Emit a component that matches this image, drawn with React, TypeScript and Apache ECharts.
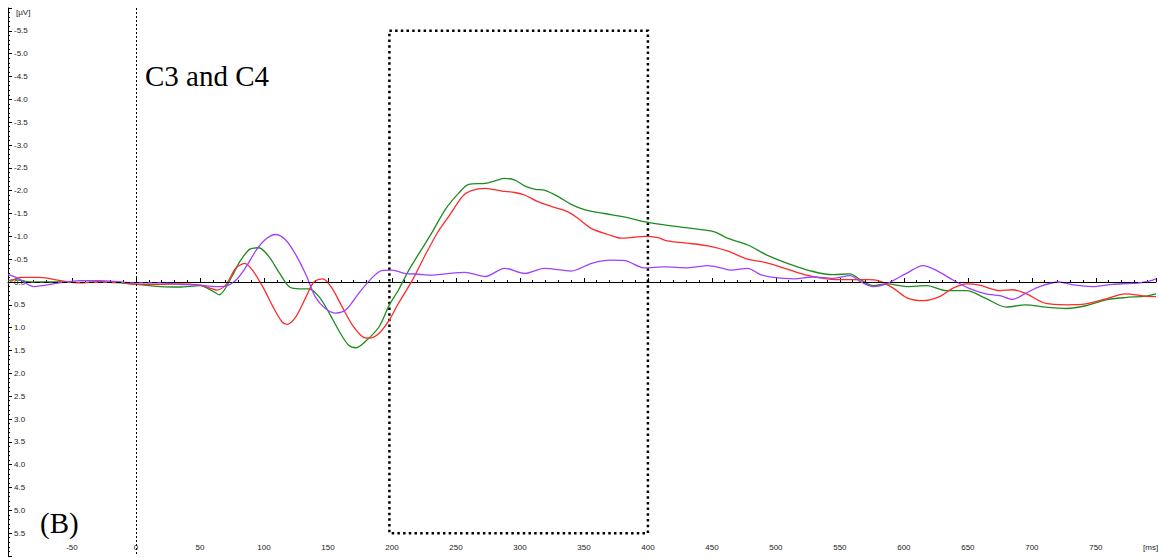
import React, { useEffect, useRef } from "react";
import * as echarts from "echarts";

// Time axis (ms) and amplitude (µV) readings for each waveform
const greenT = [-100, -95, -82, -60, -44, -28, -12, 0, 19, 34, 50, 60, 65, 75, 81, 89, 96, 104, 112, 120, 128, 135, 143, 151, 159, 166, 172, 179, 190, 198, 205, 213, 221, 231, 242, 252, 260, 273, 281, 288, 296, 304, 312, 319, 330, 340, 351, 366, 382, 397, 410, 426, 452, 462, 478, 493, 509, 529, 545, 558, 566, 576, 587, 602, 618, 633, 649, 664, 680, 695, 711, 727, 742, 758, 773, 789, 797];
const greenV = [-0.03, -0.05, 0, 0, 0.01, 0, 0.02, 0.05, 0.1, 0.11, 0.08, 0.2, 0.28, -0.12, -0.44, -0.72, -0.75, -0.55, -0.2, 0.11, 0.15, 0.15, 0.32, 0.68, 1.09, 1.38, 1.44, 1.31, 0.98, 0.5, 0.18, -0.25, -0.62, -1.07, -1.6, -1.94, -2.14, -2.16, -2.22, -2.27, -2.23, -2.1, -2.03, -2.01, -1.87, -1.7, -1.58, -1.5, -1.42, -1.32, -1.26, -1.2, -1.1, -0.96, -0.81, -0.59, -0.41, -0.23, -0.16, -0.18, -0.05, 0.08, 0.04, 0.1, 0.08, 0.19, 0.19, 0.36, 0.55, 0.5, 0.55, 0.58, 0.52, 0.39, 0.34, 0.31, 0.26];

const redT = [-100, -95, -90, -75, -59, -44, -28, -12, 0, 19, 34, 50, 60, 63, 70, 78, 85, 91, 99, 107, 114, 118, 125, 133, 139, 146, 153, 161, 169, 177, 182, 190, 198, 205, 216, 226, 236, 244, 255, 262, 273, 286, 296, 304, 314, 325, 338, 345, 356, 369, 379, 389, 397, 408, 415, 431, 447, 462, 478, 493, 509, 524, 540, 555, 571, 581, 592, 602, 615, 628, 638, 649, 659, 675, 685, 695, 711, 727, 742, 758, 773, 789, 797];
const redV = [0.04, -0.06, -0.1, -0.1, -0.03, 0.02, 0, 0.01, 0.05, 0.05, 0.04, 0.07, 0.15, 0.18, 0.07, -0.3, -0.41, -0.26, 0.1, 0.54, 0.87, 0.93, 0.76, 0.32, 0, -0.07, 0.13, 0.54, 0.94, 1.2, 1.23, 1.12, 0.83, 0.47, -0.04, -0.59, -1.1, -1.42, -1.87, -2.0, -2.05, -1.99, -1.96, -1.9, -1.76, -1.65, -1.53, -1.4, -1.17, -1.04, -0.96, -0.98, -1.0, -0.97, -0.9, -0.85, -0.79, -0.68, -0.5, -0.42, -0.28, -0.15, -0.07, -0.05, -0.05, -0.02, 0.14, 0.34, 0.41, 0.32, 0.14, 0.04, 0.07, 0.19, 0.17, 0.25, 0.47, 0.5, 0.48, 0.37, 0.26, 0.31, 0.32];

const purpleT = [-100, -92, -80, -60, -44, -28, -12, 0, 19, 34, 50, 63, 70, 78, 86, 94, 102, 109, 117, 125, 133, 140, 148, 156, 164, 174, 184, 192, 200, 210, 221, 231, 242, 257, 273, 288, 304, 319, 340, 356, 371, 382, 397, 413, 431, 447, 457, 465, 478, 488, 498, 514, 529, 545, 558, 566, 576, 587, 602, 615, 625, 638, 651, 664, 675, 685, 695, 706, 721, 734, 747, 763, 778, 789, 797];
const purpleV = [-0.16, -0.08, 0.1, 0.02, -0.03, -0.03, 0, 0.02, 0.02, 0.05, 0.07, 0.1, 0.09, -0.04, -0.33, -0.7, -0.95, -1.04, -0.92, -0.59, -0.15, 0.32, 0.58, 0.68, 0.61, 0.25, -0.08, -0.25, -0.26, -0.19, -0.17, -0.15, -0.18, -0.21, -0.12, -0.3, -0.19, -0.3, -0.24, -0.41, -0.48, -0.47, -0.31, -0.33, -0.31, -0.36, -0.31, -0.26, -0.3, -0.16, -0.1, -0.07, -0.11, -0.08, -0.14, -0.01, 0.1, 0.03, -0.19, -0.36, -0.26, -0.05, 0.14, 0.26, 0.3, 0.38, 0.25, 0.1, 0, 0.07, 0.1, 0.05, 0.03, 0, -0.07];

// Axis ranges and the analysis window
const xRange = [-100, 797];
const yRange = [-6, 6];
const windowMs = [198, 400];
const windowUv = [-5.5, 5.5];

const zip = (t: number[], v: number[]) => t.map((x, i) => [x, v[i]]);

export default function App() {
  const ref = useRef<HTMLDivElement>(null);
  useEffect(() => {
    if (!ref.current) return;
    const chart = echarts.init(ref.current, null, { renderer: "svg" });
    const labelFont = { fontFamily: "Liberation Sans", fontSize: 8, color: "#222" };
    const lineSeries = (name: string, data: number[][], color: string) => ({
      name,
      type: "line",
      data,
      showSymbol: false,
      smooth: 0.3,
      lineStyle: { color, width: 1.3 },
      itemStyle: { color },
      z: 3,
    });
    chart.setOption({
      animation: false,
      grid: { left: 8, right: 0, top: 8, bottom: 2, containLabel: false },
      xAxis: {
        type: "value",
        min: xRange[0],
        max: xRange[1],
        interval: 50,
        axisLine: { show: true, lineStyle: { color: "#000", width: 1 } },
        axisTick: { show: true, inside: true, length: 4, lineStyle: { color: "#000" } },
        minorTick: { show: true, splitNumber: 5, length: 2, lineStyle: { color: "#000" } },
        axisLabel: {
          inside: true,
          margin: 5,
          showMinLabel: false,
          ...labelFont,
          formatter: (v: number) => (v <= xRange[0] || v > 760 ? "" : String(v)),
        },
        splitLine: { show: false },
        minorSplitLine: { show: false },
      },
      yAxis: {
        type: "value",
        inverse: true,
        min: yRange[0],
        max: yRange[1],
        interval: 0.5,
        axisLine: { show: true, onZero: false, lineStyle: { color: "#000", width: 1 } },
        axisTick: { show: true, inside: true, length: 4, lineStyle: { color: "#000" } },
        minorTick: { show: true, splitNumber: 5, length: 2, lineStyle: { color: "#000" } },
        axisLabel: {
          inside: true,
          margin: 6,
          ...labelFont,
          formatter: (v: number) => (Math.abs(v) >= 6 ? "" : (Math.abs(v) < 1e-9 ? 0 : v).toFixed(1)),
        },
        splitLine: { show: false },
      },
      series: [
        {
          type: "line",
          data: [],
          silent: true,
          markLine: {
            silent: true,
            symbol: "none",
            label: { show: false },
            data: [
              { xAxis: 0, lineStyle: { color: "#000", width: 1, type: [2, 2] } },
              { yAxis: 0, lineStyle: { color: "#000", width: 1, type: [5, 4] } },
            ],
          },
          markArea: {
            silent: true,
            itemStyle: {
              color: "rgba(0,0,0,0)",
              borderColor: "#000",
              borderWidth: 2.5,
              borderType: [2.5, 3.2],
            },
            data: [[{ xAxis: windowMs[0], yAxis: windowUv[0] }, { xAxis: windowMs[1], yAxis: windowUv[1] }]],
          },
        },
        lineSeries("green", zip(greenT, greenV), "#1f8c1f"),
        lineSeries("red", zip(redT, redV), "#ff2a2a"),
        lineSeries("purple", zip(purpleT, purpleV), "#a040ff"),
      ],
      graphic: [
        { type: "line", shape: { x1: 8, y1: 8.5, x2: 12, y2: 8.5 }, style: { stroke: "#000", lineWidth: 1 } },
        { type: "text", x: 16, y: 12, style: { text: "[µV]", fontFamily: "Liberation Sans", fontSize: 8, fill: "#222", verticalAlign: "middle" } },
        { type: "text", x: 1143, y: 547, style: { text: "[ms]", fontFamily: "Liberation Sans", fontSize: 8, fill: "#222", verticalAlign: "middle" } },
        { type: "text", x: 145, y: 76, style: { text: "C3 and C4", fontFamily: "Liberation Serif", fontSize: 29, fill: "#000", verticalAlign: "middle" } },
        { type: "text", x: 40, y: 523, style: { text: "(B)", fontFamily: "Liberation Serif", fontSize: 29, fill: "#000", verticalAlign: "middle" } },
      ],
    });
    return () => chart.dispose();
  }, []);
  return <div ref={ref} style={{ position: "absolute", left: 0, top: 0, width: 1159, height: 558 }} />;
}
